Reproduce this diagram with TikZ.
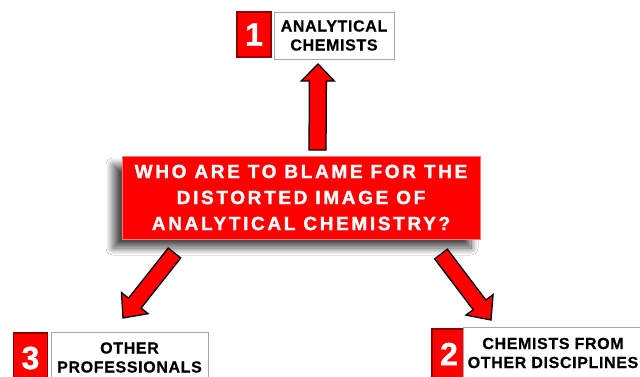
\documentclass[tikz,border=0pt]{standalone}
\usepackage{fontspec}
\setmainfont{Liberation Sans}
\newfontfamily\titlefont[LetterSpace=14,FakeBold=1.6]{Liberation Sans}
\newfontfamily\labelfont[LetterSpace=4,FakeBold=0.6]{Liberation Sans}
\newfontfamily\digitfont[FakeBold=1]{Liberation Sans}
\usetikzlibrary{calc,shadows.blur}
\newcommand\fatarrow[5]{%
  \path ($(#2)!#5!(#1)$) coordinate (hb);
  \filldraw[arrowbody] ($(#1)!#3!-90:(#2)$) -- ($(hb)!#3!-90:(#2)$) -- ($(hb)!#4!-90:(#2)$) -- (#2)
    -- ($(hb)!#4!90:(#2)$) -- ($(hb)!#3!90:(#2)$) -- ($(#1)!#3!90:(#2)$) -- cycle;}
\begin{document}
\begin{tikzpicture}[x=1pt,y=-1pt,
  mainbox/.style={fill=red, draw=red!55!white, line width=0.6pt, minimum width=358pt, minimum height=83pt,
    inner sep=0pt, text=white, align=center, font=\titlefont\bfseries\fontsize{19}{26}\selectfont,
    blur shadow={shadow xshift=-9pt, shadow yshift=-9pt, shadow blur steps=14, shadow blur radius=7pt, shadow opacity=70}},
  numbox/.style={fill=red, draw=red!55!black, line width=1.8pt, minimum width=34pt, inner sep=0pt,
    text=white, font=\digitfont\bfseries\fontsize{32}{32}\selectfont},
  labelbox/.style={fill=white, draw=gray!70, line width=0.8pt, inner sep=0pt, align=center,
    font=\labelfont\bfseries\fontsize{16}{19}\selectfont},
  arrowbody/.style={fill=red, draw=black, line width=1.3pt, line join=miter}]
\useasboundingbox (0,0) rectangle (640,377);
\fill[white] (0,0) rectangle (640,377);

\node[mainbox] (main) at (301,197.5) {WHO ARE TO BLAME FOR THE\\DISTORTED IMAGE OF\\ANALYTICAL CHEMISTRY?};

% top
\node[numbox, minimum height=45pt] (n1) at (254,34.5) {1};
\node[labelbox, minimum width=120pt, minimum height=47pt] (l1) at (334,35.5) {ANALYTICAL\\CHEMISTS};
% bottom left
\node[numbox, minimum height=50pt] (n3) at (30.5,358) {3};
\node[labelbox, minimum width=157pt, minimum height=50pt] (l3) at (129.5,357.5) {OTHER\\PROFESSIONALS};
% bottom right
\node[numbox, minimum height=50pt] (n2) at (449,354) {2};
\node[labelbox, minimum width=180pt, minimum height=52pt] (l2) at (553,353) {CHEMISTS FROM\\OTHER DISCIPLINES};

% arrows
\coordinate (a1s) at (317.5,150);
\coordinate (a1t) at (318,64);
\coordinate (a3s) at (174.5,253);
\coordinate (a3t) at (123,318);
\coordinate (a2s) at (441,254);
\coordinate (a2t) at (491,320);
\fatarrow{a1s}{a1t}{8.5pt}{16.5pt}{17pt}
\fatarrow{a3s}{a3t}{8pt}{17pt}{19pt}
\fatarrow{a2s}{a2t}{8pt}{17pt}{19pt}
\end{tikzpicture}
\end{document}
